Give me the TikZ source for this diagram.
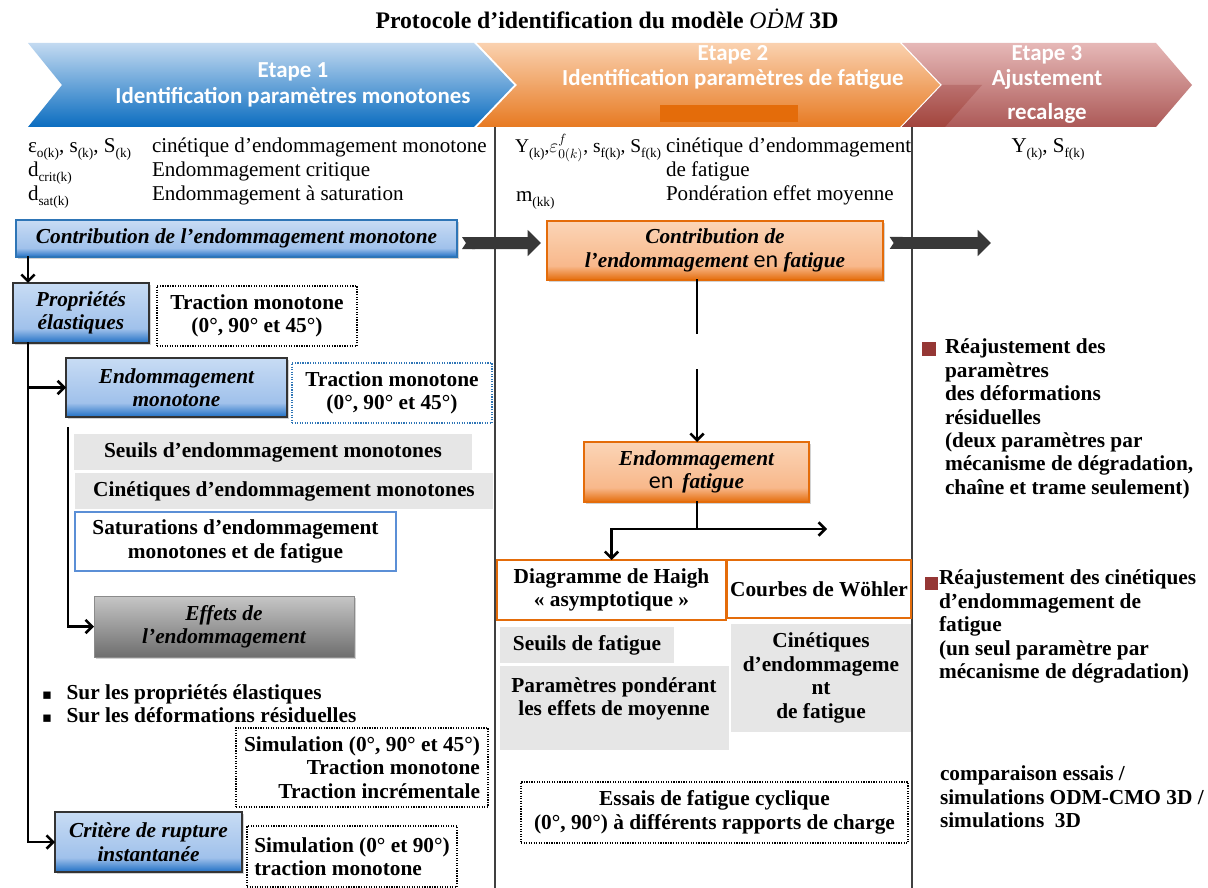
\documentclass[tikz,border=0pt]{standalone}
\usepackage{fontspec}
\setmainfont{Liberation Serif}
\newfontfamily\calib{Carlito}
\newfontfamily\dejavu{DejaVu Sans}
\usetikzlibrary{arrows.meta,shadows}
\definecolor{blueL}{HTML}{C8DCF4}
\definecolor{blueM}{HTML}{A0C1EB}
\definecolor{blueD}{HTML}{1F6FC4}
\definecolor{orL}{HTML}{FBD5B7}
\definecolor{orM}{HTML}{F8B88B}
\definecolor{orD}{HTML}{E46C0A}
\definecolor{grL}{HTML}{C6C6C6}
\definecolor{grD}{HTML}{6E6E6E}
\definecolor{panel}{HTML}{E6E6E6}
\definecolor{redsq}{HTML}{953735}
\definecolor{dotblue}{HTML}{2E75B6}
\definecolor{satblue}{HTML}{5B8FD6}
\definecolor{chbL}{HTML}{C3DAF1}
\definecolor{chbD}{HTML}{0B6DC0}
\definecolor{choL}{HTML}{FAD1AF}
\definecolor{choD}{HTML}{E77A22}
\definecolor{chrL}{HTML}{E6B8B7}
\definecolor{chrD}{HTML}{AC5957}
\definecolor{chrX}{HTML}{A2443C}
\pgfdeclareverticalshading{blueshade}{100bp}{color(0bp)=(blueD); color(25bp)=(blueD); color(37bp)=(blueM); color(60bp)=(blueL!60!blueM); color(75bp)=(blueL); color(100bp)=(blueL)}
\pgfdeclareverticalshading{orshade}{100bp}{color(0bp)=(orD); color(25bp)=(orD); color(37bp)=(orM); color(60bp)=(orL!60!orM); color(75bp)=(orL); color(100bp)=(orL)}
\pgfdeclareverticalshading{grshade}{100bp}{color(0bp)=(grD); color(25bp)=(grD); color(75bp)=(grL); color(100bp)=(grL)}
\newcommand\sbx[1]{\raisebox{-0.45ex}{\fontsize{10}{10}\selectfont #1}}
\begin{document}
\begin{tikzpicture}[x=0.75pt,y=-0.75pt,
  every node/.style={inner sep=0pt,outer sep=0pt},
  wh/.style 2 args={minimum width=#1*0.75pt,minimum height=#2*0.75pt},
  bt/.style={font=\fontsize{16}{17.55}\selectfont\bfseries},
  bit/.style={font=\fontsize{16}{17.55}\selectfont\bfseries\itshape},
  rt/.style={font=\fontsize{15.8}{17.6}\selectfont},
  chev/.style={font=\calib\fontsize{17.2}{18}\selectfont\bfseries,text=white},
  shad/.style={drop shadow={shadow xshift=1.5pt,shadow yshift=-1.5pt,opacity=0.35}},
  bluebox/.style={shad,shade,shading=blueshade,draw=black!80,line width=0.8pt,bit,align=center},
  orbox/.style={shad,shade,shading=orshade,draw=orD,line width=0.8pt,bit,align=center},
  grbox/.style={shad,shade,shading=grshade,draw=grD!80,line width=0.5pt,bit,align=center},
  panelbox/.style={fill=panel,bt,align=center},
  dotbox/.style={draw=black,densely dotted,line width=0.9pt,bt},
  hbox/.style={draw=orD,line width=1.6pt,fill=white,bt,align=center},
  conn/.style={line width=1.9pt,line cap=rect},
  arr/.style={conn,-{Straight Barb[length=5pt,width=10pt]}},
  bigarrow/.style={line width=9pt,draw=black!78,{Triangle Cap[reversed,length=3pt]}-{Triangle[length=10pt,width=19pt]}},
  sep/.style={draw=black!75,line width=1pt}
]
\useasboundingbox (0,0) rectangle (1208,888);
\fill[white] (0,0) rectangle (1208,888);

% title
\node[font=\fontsize{17.8}{19}\selectfont\bfseries] (title) at (607,19) {Protocole d’identification du modèle {\mdseries\itshape OḊM} 3D};

% chevrons
\shade[top color=chbL,bottom color=chbD] (28,43) -- (474,43) -- (514,85) -- (474,127) -- (28,127) -- (62,85) -- cycle;
\shade[top color=choL,bottom color=choD] (477,43) -- (900,43) -- (940,85) -- (900,127) -- (477,127) -- (517,85) -- cycle;
\shade[top color=chrL,bottom color=chrD] (902,43) -- (1156,43) -- (1192,85) -- (1156,127) -- (902,127) -- (942,85) -- cycle;
\shade[top color=chrD!75!chrL,bottom color=chrX] (902,127) -- (942,85) -- (982,85) -- (945,127) -- cycle;
\fill[orD] (660,105) rectangle (798,122);
\node[chev] (e1a) at (293,72) {Etape 1};
\node[chev] (e1b) at (293,97) {Identification paramètres monotones};
\node[chev] (e2a) at (733,55) {Etape 2};
\node[chev] (e2b) at (733,79) {Identification paramètres de fatigue};
\node[chev] (e3a) at (1047,55) {Etape 3};
\node[chev] (e3b) at (1047,79) {Ajustement};
\node[chev] (e3c) at (1047,113) {recalage};

% separators
\draw[sep] (495,127) -- (495,888);
\draw[sep] (912,127) -- (912,888);

% parameters
\node[rt,anchor=base west] (v1) at (28,153) {ε\sbx{o(k)}, s\sbx{(k)}, S\sbx{(k)}};
\node[rt,anchor=base west] (v1t) at (152,153) {cinétique d’endommagement monotone};
\node[rt,anchor=base west] (v2) at (28,177) {d\sbx{crit(k)}};
\node[rt,anchor=base west] (v2t) at (152,177) {Endommagement critique};
\node[rt,anchor=base west] (v3) at (28,201) {d\sbx{sat(k)}};
\node[rt,anchor=base west] (v3t) at (152,201) {Endommagement à saturation};
\node[font=\fontsize{14.6}{17}\selectfont,anchor=base west] (w1) at (515,153) {Υ\sbx{(k)},$\varepsilon^{f}_{0(k)}$, s\sbx{f(k)}, S\sbx{f(k)}};
\node[rt,anchor=base west] (w1t) at (666,153) {cinétique d’endommagement};
\node[rt,anchor=base west] (w1u) at (666,177) {de fatigue};
\node[rt,anchor=base west] (w2) at (516,202) {m\sbx{(kk)}};
\node[rt,anchor=base west] (w2t) at (666,201) {Pondération effet moyenne};
\node[rt,anchor=base] (x1) at (1048,153) {Υ\sbx{(k)}, S\sbx{f(k)}};

% column 1
\node[bluebox,draw=dotblue,wh={441}{37}] (contrib) at (236.5,238.5) {Contribution de l’endommagement monotone};
\node[bluebox,wh={136}{60}] (prop) at (81,313) {Propriétés\\élastiques};
\node[dotbox,align=center,wh={200}{60}] (tm1) at (257,316) {Traction monotone\\(0°, 90° et 45°)};
\node[bluebox,wh={221}{59}] (endmono) at (176.5,387.5) {Endommagement\\monotone};
\node[dotbox,draw=dotblue,align=center,wh={200}{60}] (tm2) at (392,393) {Traction monotone\\(0°, 90° et 45°)};
\node[panelbox,wh={398}{36}] (seuils) at (273,452) {Seuils d’endommagement monotones};
\node[panelbox,wh={418}{36}] (cinet) at (284,491) {Cinétiques d’endommagement monotones};
\node[draw=satblue,line width=0.8pt,fill=white,bt,align=center,wh={321}{59}] (satur) at (235.5,541.5) {Saturations d’endommagement\\monotones et de fatigue};
\node[grbox,wh={260}{61}] (effets) at (224,626.5) {Effets de\\l’endommagement};
\node[bt,align=left,anchor=west] (bul) at (42,704) {{\dejavu\fontsize{11}{12}\selectfont ▪}\hspace{11pt}Sur les propriétés élastiques\\{\dejavu\fontsize{11}{12}\selectfont ▪}\hspace{11pt}Sur les déformations résiduelles};
\node[dotbox,align=right,wh={252}{79}] (sim1) at (362,767.5) {Simulation (0°, 90° et 45°)\\Traction monotone\\Traction incrémentale};
\node[bluebox,wh={187}{60}] (crit) at (148.5,842) {Critère de rupture\\instantanée};
\node[dotbox,align=left,wh={210}{61}] (sim2) at (352,856.5) {Simulation (0° et 90°)\\traction monotone};

% column 2
\node[orbox,wh={336}{59}] (contribF) at (715,250.5) {Contribution de\\l’endommagement {\calib\mdseries\upshape\fontsize{18}{17}\selectfont en} fatigue};
\node[orbox,wh={225}{60}] (endF) at (696.5,472) {Endommagement\\{\calib\mdseries\upshape\fontsize{18}{17}\selectfont en}\, fatigue};
\node[hbox,wh={229}{60}] (haigh) at (611.5,590) {Diagramme de Haigh\\« asymptotique »};
\node[hbox,wh={184}{58}] (wohler) at (819,589) {Courbes de Wöhler};
\node[panelbox,wh={174}{36}] (seuilsF) at (587,645) {Seuils de fatigue};
\node[fill=panel,wh={229}{84}] (param) at (614.5,708) {};
\node[bt,align=center] (paramt) at (614,699) {Paramètres pondérant\\les effets de moyenne};
\node[panelbox,wh={180}{108}] (cinF) at (821,678) {Cinétiques\\d’endommageme\\nt\\de fatigue};
\node[dotbox,align=center,wh={387}{61}] (essais) at (714.5,812.5) {Essais de fatigue cyclique\\(0°, 90°) à différents rapports de charge};

% column 3
\fill[redsq] (922,342) rectangle (936,356);
\node[bt,align=left,anchor=north west] (r1) at (945,339) {Réajustement des\\paramètres\\des déformations\\résiduelles\\(deux paramètres par\\mécanisme de dégradation,\\chaîne et trame seulement)};
\fill[redsq] (925,577) rectangle (938,590);
\node[bt,align=left,anchor=north west] (r2) at (939,570) {Réajustement des cinétiques\\d’endommagement de\\fatigue\\(un seul paramètre par\\mécanisme de dégradation)};
\node[bt,align=left,anchor=north west] (comp) at (940,766) {comparaison essais /\\simulations ODM-CMO 3D /\\simulations~~3D};

% connectors column 1
\draw[arr] ([xshift=9pt]contrib.south west) -- ([xshift=9pt]contrib.south west |- prop.north);
\draw[arr] ([xshift=11.25pt]prop.south west) |- (crit.west);
\draw[arr] ([xshift=11.25pt]prop.south west |- endmono.west) -- (endmono.west);
\draw[arr] ([xshift=1.5pt,yshift=-8.5pt]endmono.south west) |- (effets.west);

% big arrows
\coordinate (a1e) at (541,243);
\coordinate (a2e) at (991,243);
\draw[bigarrow] ([xshift=3.75pt,yshift=-3.4pt]contrib.east) -- (a1e);
\draw[bigarrow] ([xshift=5pt]contribF.east |- a2e) -- (a2e);

% connectors column 2
\coordinate (g1) at (697,333);
\coordinate (g2) at (697,370);
\coordinate (split) at (697,529);
\coordinate (wend) at (827,529);
\draw[conn] (contribF.south -| g1) -- (g1);
\draw[arr] (g2) -- (g2 |- endF.north);
\draw[conn] (endF.south -| split) -- (split);
\draw[arr] (split) -| (haigh.north);
\draw[arr] (split) -- (wend);
\end{tikzpicture}
\end{document}
